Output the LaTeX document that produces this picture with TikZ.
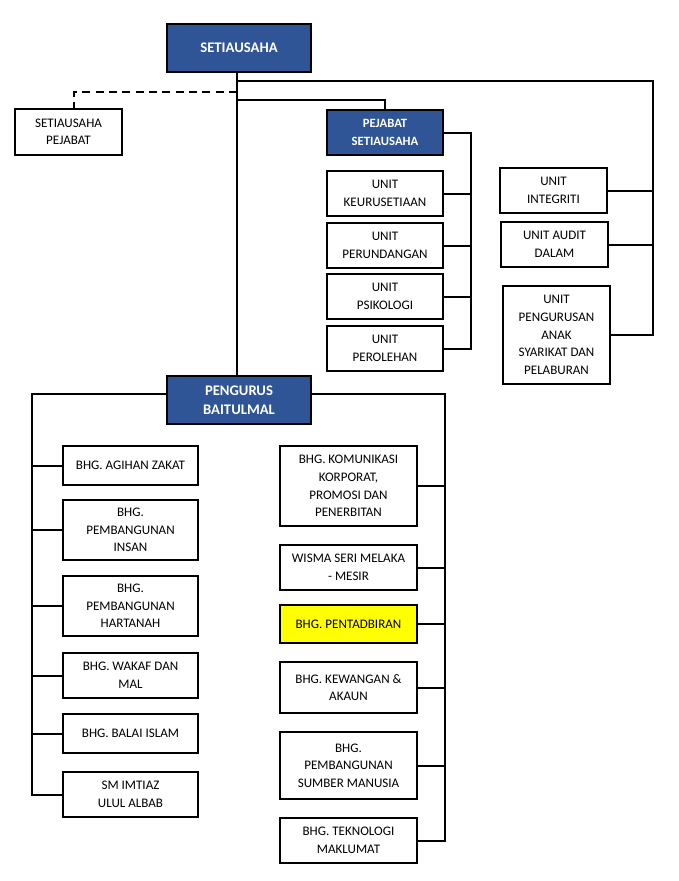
\documentclass[tikz,border=0pt]{standalone}
\usepackage{fontspec}
\setmainfont{Carlito}
\definecolor{hdblue}{HTML}{2F5597}
\definecolor{hlyellow}{HTML}{FFFF00}
\tikzset{
  px/.style={x=0.75pt,y=-0.75pt},
  bx/.style 2 args={draw, line width=1.5pt, align=center, inner sep=1pt,
    minimum width=#1*0.75pt, minimum height=#2*0.75pt,
    font=\fontsize{9.8}{13.2}\selectfont},
  hd/.style={fill=hdblue, text=white, font=\bfseries\fontsize{11}{14}\selectfont},
  hdsmall/.style={fill=hdblue, text=white, font=\bfseries\fontsize{9.5}{13}\selectfont},
  conn/.style={line width=1.5pt},
}
\begin{document}
\begin{tikzpicture}[px]
\useasboundingbox (0,0) rectangle (678,881);
% top level
\node[bx={144}{48}, hd] (setia) at (239,48) {SETIAUSAHA};
\node[bx={107}{46}] (sp) at (68.5,132) {SETIAUSAHA\\PEJABAT};
\node[bx={116}{45}, hdsmall] (ps) at (385,132.5) {PEJABAT\\SETIAUSAHA};
\node[bx={116}{45}] (keur) at (385,193.5) {UNIT\\KEURUSETIAAN};
\node[bx={116}{45}] (perund) at (385,245.5) {UNIT\\PERUNDANGAN};
\node[bx={116}{45}] (psik) at (385,296.5) {UNIT\\PSIKOLOGI};
\node[bx={116}{45}] (perol) at (385,348.5) {UNIT\\PEROLEHAN};
\node[bx={107}{45}] (integ) at (553.5,190.5) {UNIT\\INTEGRITI};
\node[bx={107}{45}] (audit) at (554.5,244.5) {UNIT AUDIT\\DALAM};
\node[bx={107}{98}] (anak) at (556.5,335) {UNIT\\PENGURUSAN\\ANAK\\SYARIKAT DAN\\PELABURAN};
\node[bx={144}{48}, hd] (pb) at (239,400) {PENGURUS\\BAITULMAL};
% left column
\node[bx={135}{39}] (agihan) at (130.5,465.5) {BHG. AGIHAN ZAKAT};
\node[bx={135}{60}] (insan) at (130.5,530) {BHG.\\PEMBANGUNAN\\INSAN};
\node[bx={135}{60}] (hartanah) at (130.5,606) {BHG.\\PEMBANGUNAN\\HARTANAH};
\node[bx={135}{45}] (wakaf) at (130.5,675.5) {BHG. WAKAF DAN\\MAL};
\node[bx={135}{39}] (balai) at (130.5,733.5) {BHG. BALAI ISLAM};
\node[bx={135}{45}] (imtiaz) at (130.5,794.5) {SM IMTIAZ\\ULUL ALBAB};
% right column
\node[bx={137}{80}] (komun) at (348.5,486) {BHG. KOMUNIKASI\\KORPORAT,\\PROMOSI DAN\\PENERBITAN};
\node[bx={137}{45}] (wisma) at (348.5,567.5) {WISMA SERI MELAKA\\- MESIR};
\node[bx={137}{38}, fill=hlyellow] (pentad) at (348.5,624) {BHG. PENTADBIRAN};
\node[bx={137}{51}] (kewangan) at (348.5,687.5) {BHG. KEWANGAN \&\\AKAUN};
\node[bx={137}{67}] (psm) at (348.5,765.5) {BHG.\\PEMBANGUNAN\\SUMBER MANUSIA};
\node[bx={137}{45}] (tekno) at (348.5,840.5) {BHG. TEKNOLOGI\\MAKLUMAT};
% guide coordinates
\coordinate (tr) at (237,0);
\coordinate (rr) at (653,0);
\coordinate (pr) at (471,0);
\coordinate (dl) at (74,0);
\coordinate (ll) at (32,0);
\coordinate (lr) at (445,0);
\coordinate (y81) at (0,81);
\coordinate (y92) at (0,92);
\coordinate (y100) at (0,100);
\coordinate (y394) at (0,394);
% trunk
\draw[conn] (setia.south -| tr) -- (pb.north -| tr);
% right branch to units
\draw[conn] (tr |- y81) -- (rr |- y81) -- (rr |- anak.east) -- (anak.east);
\draw[conn] (integ.east) -- (integ.east -| rr);
\draw[conn] (audit.east) -- (audit.east -| rr);
% pejabat setiausaha
\draw[conn] (tr |- y100) -- (ps.north |- y100) -- (ps.north);
\draw[conn] (ps.east) -- (ps.east -| pr) -- (perol.east -| pr) -- (perol.east);
\draw[conn] (keur.east) -- (keur.east -| pr);
\draw[conn] (perund.east) -- (perund.east -| pr);
\draw[conn] (psik.east) -- (psik.east -| pr);
% dashed to setiausaha pejabat
\draw[conn, dashed, dash pattern=on 6pt off 4pt] (tr |- y92) -- (dl |- y92) -- (sp.north -| dl);
% pengurus baitulmal left
\draw[conn] (pb.west |- y394) -- (ll |- y394) -- (ll |- imtiaz.west) -- (imtiaz.west);
\foreach \n in {agihan,insan,hartanah,wakaf,balai}
  \draw[conn] (\n.west) -- (\n.west -| ll);
% pengurus baitulmal right
\draw[conn] (pb.east |- y394) -- (lr |- y394) -- (lr |- tekno.east) -- (tekno.east);
\foreach \n in {komun,wisma,pentad,kewangan,psm}
  \draw[conn] (\n.east) -- (\n.east -| lr);
\end{tikzpicture}
\end{document}
